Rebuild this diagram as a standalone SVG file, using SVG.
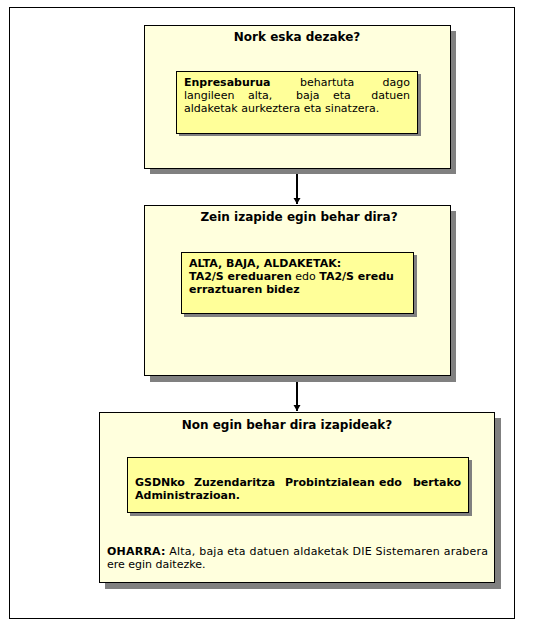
<svg xmlns="http://www.w3.org/2000/svg" width="549" height="629" viewBox="0 0 549 629">
<defs>
<style>
.frame{fill:#ffffff;stroke:#000000;stroke-width:1}
.outer{fill:#ffffdd;stroke:#000000;stroke-width:1}
.inner{fill:#ffff99;stroke:#000000;stroke-width:1}
.shadow{fill:#808080}
.title{font-family:"DejaVu Sans",Verdana,sans-serif;font-size:12px;font-weight:bold;fill:#000}
.body{font-family:"DejaVu Sans",Verdana,sans-serif;font-size:11px;fill:#000}
.b{font-weight:bold}
.conn{stroke:#000;stroke-width:2;fill:none}
</style>
<marker id="arr" markerWidth="8" markerHeight="8" refX="6" refY="4" orient="auto" markerUnits="userSpaceOnUse">
<path d="M0,0.5 L6,4 L0,7.5 Z" fill="#000"/>
</marker>
</defs>
<rect class="frame" x="9.5" y="7.5" width="505" height="611"/>
<g id="connectors">
<line class="conn" x1="297" y1="168" x2="297" y2="204" marker-end="url(#arr)"/>
<line class="conn" x1="297" y1="376" x2="297" y2="411" marker-end="url(#arr)"/>
</g>
<g id="node1">
<rect class="shadow" x="150" y="31" width="306" height="143"/>
<rect class="outer" x="144.5" y="25.5" width="306" height="143"/>
<text class="title" x="297" y="41" text-anchor="middle">Nork eska dezake?</text>
<rect class="shadow" x="179" y="74" width="242" height="62"/>
<rect class="inner" x="176.5" y="71.5" width="241" height="62"/>
<text class="body"><tspan class="b" x="184" y="86">Enpresaburua</tspan><tspan x="300" y="86">behartuta</tspan><tspan x="410" y="86" text-anchor="end">dago</tspan></text>
<text class="body"><tspan x="184" y="99">langileen</tspan><tspan x="248" y="99">alta,</tspan><tspan x="296" y="99">baja</tspan><tspan x="333" y="99">eta</tspan><tspan x="410" y="99" text-anchor="end">datuen</tspan></text>
<text class="body" x="184" y="112">aldaketak aurkeztera eta sinatzera.</text>
</g>
<g id="node2">
<rect class="shadow" x="150" y="211" width="306" height="171"/>
<rect class="outer" x="144.5" y="205.5" width="306" height="170"/>
<text class="title" x="299" y="221" text-anchor="middle">Zein izapide egin behar dira?</text>
<rect class="shadow" x="184" y="255" width="233" height="62"/>
<rect class="inner" x="181.5" y="252.5" width="232" height="61"/>
<text class="body b" x="189" y="267">ALTA, BAJA, ALDAKETAK:</text>
<text class="body" x="189" y="280"><tspan class="b">TA2/S ereduaren</tspan> edo <tspan class="b">TA2/S eredu</tspan></text>
<text class="body b" x="189" y="293">erraztuaren bidez</text>
</g>
<g id="node3">
<rect class="shadow" x="105" y="418" width="396" height="171"/>
<rect class="outer" x="99.5" y="412.5" width="395" height="170"/>
<text class="title" x="287" y="429" text-anchor="middle">Non egin behar dira izapideak?</text>
<rect class="shadow" x="130" y="460" width="342" height="56"/>
<rect class="inner" x="127.5" y="457.5" width="341" height="55"/>
<text class="body b"><tspan x="135" y="486">GSDNko</tspan><tspan x="194" y="486">Zuzendaritza</tspan><tspan x="285" y="486">Probintzialean</tspan><tspan x="379" y="486">edo</tspan><tspan x="461" y="486" text-anchor="end">bertako</tspan></text>
<text class="body b" x="135" y="499">Administrazioan.</text>
<text class="body" x="107" y="555" textLength="381" lengthAdjust="spacing"><tspan class="b">OHARRA:</tspan> Alta, baja eta datuen aldaketak DIE Sistemaren arabera</text>
<text class="body" x="107" y="568">ere egin daitezke.</text>
</g>
</svg>
